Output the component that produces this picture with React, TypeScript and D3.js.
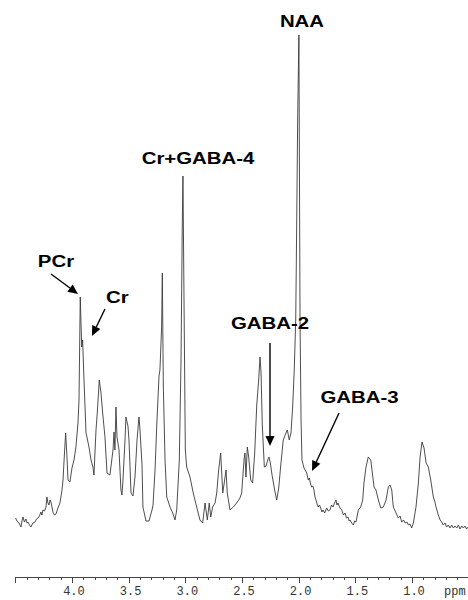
import React, { useEffect, useRef } from 'react';
import * as d3 from 'd3';

// 1H spectrum: [chemical shift (ppm), intensity (a.u.)]
const baselineLeft = [
  [4.497, 12], [4.486, 9], [4.476, 8], [4.463, 6], [4.450, 3], [4.441, 9], [4.432, 13],
  [4.420, 8], [4.406, 11], [4.397, 7], [4.388, 8], [4.375, 5], [4.362, 3], [4.345, 7],
  [4.326, 8], [4.313, 11], [4.300, 12], [4.287, 14], [4.274, 18], [4.265, 15], [4.256, 20],
  [4.242, 19], [4.229, 23], [4.221, 33], [4.212, 27], [4.203, 25], [4.194, 30], [4.185, 28],
  [4.168, 18], [4.155, 15], [4.141, 16], [4.124, 22], [4.106, 27]
];

const creatineRegion = [
  [4.088, 40], [4.079, 50], [4.071, 67], [4.056, 97], [4.044, 73], [4.035, 50], [4.018, 48],
  [4.000, 62], [3.982, 70], [3.965, 83], [3.947, 107], [3.938, 130], [3.927, 233], [3.914, 183],
  [3.906, 190], [3.894, 150], [3.876, 97], [3.868, 93], [3.850, 83], [3.832, 70], [3.815, 63],
  [3.806, 55], [3.788, 100], [3.777, 117], [3.759, 150], [3.744, 137], [3.726, 113], [3.709, 93],
  [3.691, 57], [3.665, 55], [3.638, 80], [3.629, 98], [3.621, 80], [3.612, 123], [3.603, 93],
  [3.585, 80], [3.568, 40], [3.559, 35], [3.550, 50], [3.532, 90], [3.524, 113], [3.506, 104],
  [3.497, 90], [3.479, 37], [3.462, 34], [3.444, 53], [3.426, 90], [3.409, 113], [3.400, 100],
  [3.382, 65], [3.374, 23]
];

const cholineRegion = [
  [3.347, 9], [3.321, 9], [3.294, 20], [3.285, 25], [3.268, 58], [3.250, 110], [3.232, 154],
  [3.224, 160], [3.209, 203], [3.203, 257], [3.194, 143], [3.179, 70], [3.164, 33], [3.135, 23],
  [3.111, 17], [3.091, 10], [3.076, 20], [3.053, 70], [3.038, 170], [3.027, 303], [3.021, 354],
  [3.012, 237], [3.000, 80], [2.988, 63], [2.959, 53], [2.930, 37], [2.900, 23], [2.871, 10],
  [2.847, 7], [2.826, 27], [2.806, 10], [2.789, 27], [2.776, 13], [2.759, 23], [2.738, 27],
  [2.723, 37], [2.706, 60], [2.688, 77], [2.670, 37], [2.653, 50], [2.641, 60], [2.630, 37],
  [2.606, 20]
];

const naaRegion = [
  [2.577, 23], [2.547, 27], [2.518, 32], [2.503, 37], [2.482, 70], [2.474, 77], [2.465, 53],
  [2.453, 83], [2.441, 73], [2.423, 50], [2.406, 47], [2.388, 77], [2.370, 125], [2.353, 150],
  [2.341, 173], [2.332, 157], [2.321, 105], [2.303, 63], [2.288, 64], [2.273, 70], [2.262, 73],
  [2.250, 67], [2.235, 55], [2.212, 40], [2.194, 30], [2.176, 42], [2.158, 65], [2.136, 90],
  [2.112, 97], [2.100, 100], [2.083, 90], [2.068, 97], [2.053, 123], [2.039, 160], [2.026, 210],
  [2.017, 310], [2.009, 410], [1.998, 495], [1.988, 210], [1.979, 110], [1.971, 70], [1.953, 62],
  [1.929, 57], [1.915, 50], [1.906, 52], [1.895, 46], [1.885, 43], [1.875, 44], [1.865, 40],
  [1.856, 33], [1.847, 30], [1.837, 26], [1.827, 23], [1.816, 25], [1.806, 22]
];

const lipidRegion = [
  [1.795, 18], [1.785, 20], [1.770, 17], [1.753, 22], [1.738, 19], [1.724, 20], [1.710, 25],
  [1.697, 23], [1.684, 27], [1.671, 30], [1.662, 25], [1.653, 27], [1.636, 22], [1.620, 20],
  [1.605, 15], [1.591, 17], [1.578, 12], [1.565, 13], [1.555, 9], [1.547, 10], [1.532, 7],
  [1.518, 5], [1.506, 9], [1.494, 8], [1.474, 20], [1.453, 23],
  [1.435, 30], [1.424, 47], [1.406, 63], [1.386, 73], [1.364, 70], [1.350, 57], [1.335, 43],
  [1.318, 40], [1.297, 30], [1.276, 22], [1.253, 23], [1.229, 30], [1.209, 43], [1.194, 45],
  [1.179, 40], [1.165, 23], [1.141, 17], [1.121, 12], [1.105, 14], [1.091, 8], [1.075, 10],
  [1.062, 7], [1.045, 8], [1.032, 5], [1.018, 6],
  [1.003, 2], [0.988, 7], [0.965, 23], [0.944, 47], [0.929, 73], [0.912, 88], [0.894, 82],
  [0.876, 67], [0.856, 63], [0.835, 50], [0.812, 33], [0.798, 28], [0.788, 23], [0.768, 15],
  [0.752, 10], [0.738, 8], [0.725, 5], [0.709, 7], [0.695, 3], [0.680, 5], [0.665, 2],
  [0.650, 5], [0.635, 2], [0.621, 4], [0.605, 2], [0.591, 5], [0.577, 1], [0.562, 4],
  [0.547, 2], [0.532, 4], [0.518, 1], [0.505, 3]
];

const labeledTicks = [4.0, 3.5, 3.0, 2.5, 2.0, 1.5, 1.0];

// peak assignments, placed in (ppm, intensity)
const peakLabels = [
  { text: 'NAA', ppm: 1.971, level: 503 },
  { text: 'Cr+GABA-4', ppm: 2.888, level: 366 },
  { text: 'PCr', ppm: 4.141, level: 263 },
  { text: 'Cr', ppm: 3.599, level: 227 },
  { text: 'GABA-2', ppm: 2.253, level: 201 },
  { text: 'GABA-3', ppm: 1.463, level: 127 }
];

const arrows = [
  { from: [4.185, 256], to: [3.947, 236] },
  { from: [3.709, 221], to: [3.824, 194] },
  { from: [2.253, 187], to: [2.253, 84] },
  { from: [1.644, 117], to: [1.882, 59] }
];

const width = 468;
const height = 600;
const axisY = 577;

function App() {
  const svgRef = useRef(null);

  useEffect(() => {
    const svg = d3.select(svgRef.current);
    svg.selectAll('*').remove();

    const x = d3.scaleLinear().domain([4.5, 0.5]).range([15.3, 468.7]);
    const y = d3.scaleLinear().domain([0, 500]).range([530, 30]);

    const spectrum = [...baselineLeft, ...creatineRegion, ...cholineRegion, ...naaRegion, ...lipidRegion];

    const line = d3.line()
      .x(d => x(d[0]))
      .y(d => y(d[1]));

    svg.append('path')
      .datum(spectrum)
      .attr('d', line)
      .attr('fill', 'none')
      .attr('stroke', '#3a3a3a')
      .attr('stroke-width', 0.9)
      .attr('stroke-linejoin', 'round');

    // ppm axis
    const axis = svg.append('g');
    axis.append('line')
      .attr('x1', x(4.5)).attr('x2', width)
      .attr('y1', axisY + 0.5).attr('y2', axisY + 0.5)
      .attr('stroke', '#444').attr('stroke-width', 1);

    const ticks = d3.range(5, 46).map(i => i / 10);
    axis.selectAll('line.tick')
      .data(ticks)
      .enter()
      .append('line')
      .attr('class', 'tick')
      .attr('x1', d => Math.round(x(d)) + 0.5)
      .attr('x2', d => Math.round(x(d)) + 0.5)
      .attr('y1', axisY)
      .attr('y2', d => axisY + (Math.round(d * 10) % 5 === 0 ? 6 : 3))
      .attr('stroke', '#444').attr('stroke-width', 1);

    axis.selectAll('text.tick')
      .data(labeledTicks)
      .enter()
      .append('text')
      .attr('class', 'tick')
      .attr('x', d => x(d) + 2)
      .attr('y', 595)
      .attr('text-anchor', 'middle')
      .attr('font-family', '"Liberation Mono", "DejaVu Sans Mono", monospace')
      .attr('font-size', 12)
      .attr('fill', '#333')
      .text(d => d3.format('.1f')(d));

    axis.append('text')
      .attr('x', 444)
      .attr('y', 595)
      .attr('font-family', '"Liberation Mono", "DejaVu Sans Mono", monospace')
      .attr('font-size', 12)
      .attr('fill', '#333')
      .text('ppm');

    // annotations
    const note = svg.append('g');
    note.selectAll('text')
      .data(peakLabels)
      .enter()
      .append('text')
      .attr('transform', d => `translate(${x(d.ppm)},${y(d.level)}) scale(1.2,1)`)
      .attr('text-anchor', 'middle')
      .attr('font-family', '"Liberation Sans", Arial, sans-serif')
      .attr('font-weight', 'bold')
      .attr('font-size', 17)
      .attr('fill', '#000')
      .text(d => d.text);

    const headLen = 10;
    const headHalf = 4.5;
    arrows.forEach(a => {
      const x0 = x(a.from[0]), y0 = y(a.from[1]);
      const x1 = x(a.to[0]), y1 = y(a.to[1]);
      const len = Math.hypot(x1 - x0, y1 - y0);
      const ux = (x1 - x0) / len, uy = (y1 - y0) / len;
      const bx = x1 - ux * headLen, by = y1 - uy * headLen;
      note.append('line')
        .attr('x1', x0).attr('y1', y0)
        .attr('x2', bx).attr('y2', by)
        .attr('stroke', '#000').attr('stroke-width', 1.4);
      note.append('polygon')
        .attr('points', [
          [x1, y1],
          [bx - uy * headHalf, by + ux * headHalf],
          [bx + uy * headHalf, by - ux * headHalf]
        ].map(p => p.join(',')).join(' '))
        .attr('fill', '#000');
    });
  }, []);

  return (
    <svg
      ref={svgRef}
      width={width}
      height={height}
      style={{ position: 'absolute', left: 0, top: 0, background: '#fff' }}
    />
  );
}

export default App;
